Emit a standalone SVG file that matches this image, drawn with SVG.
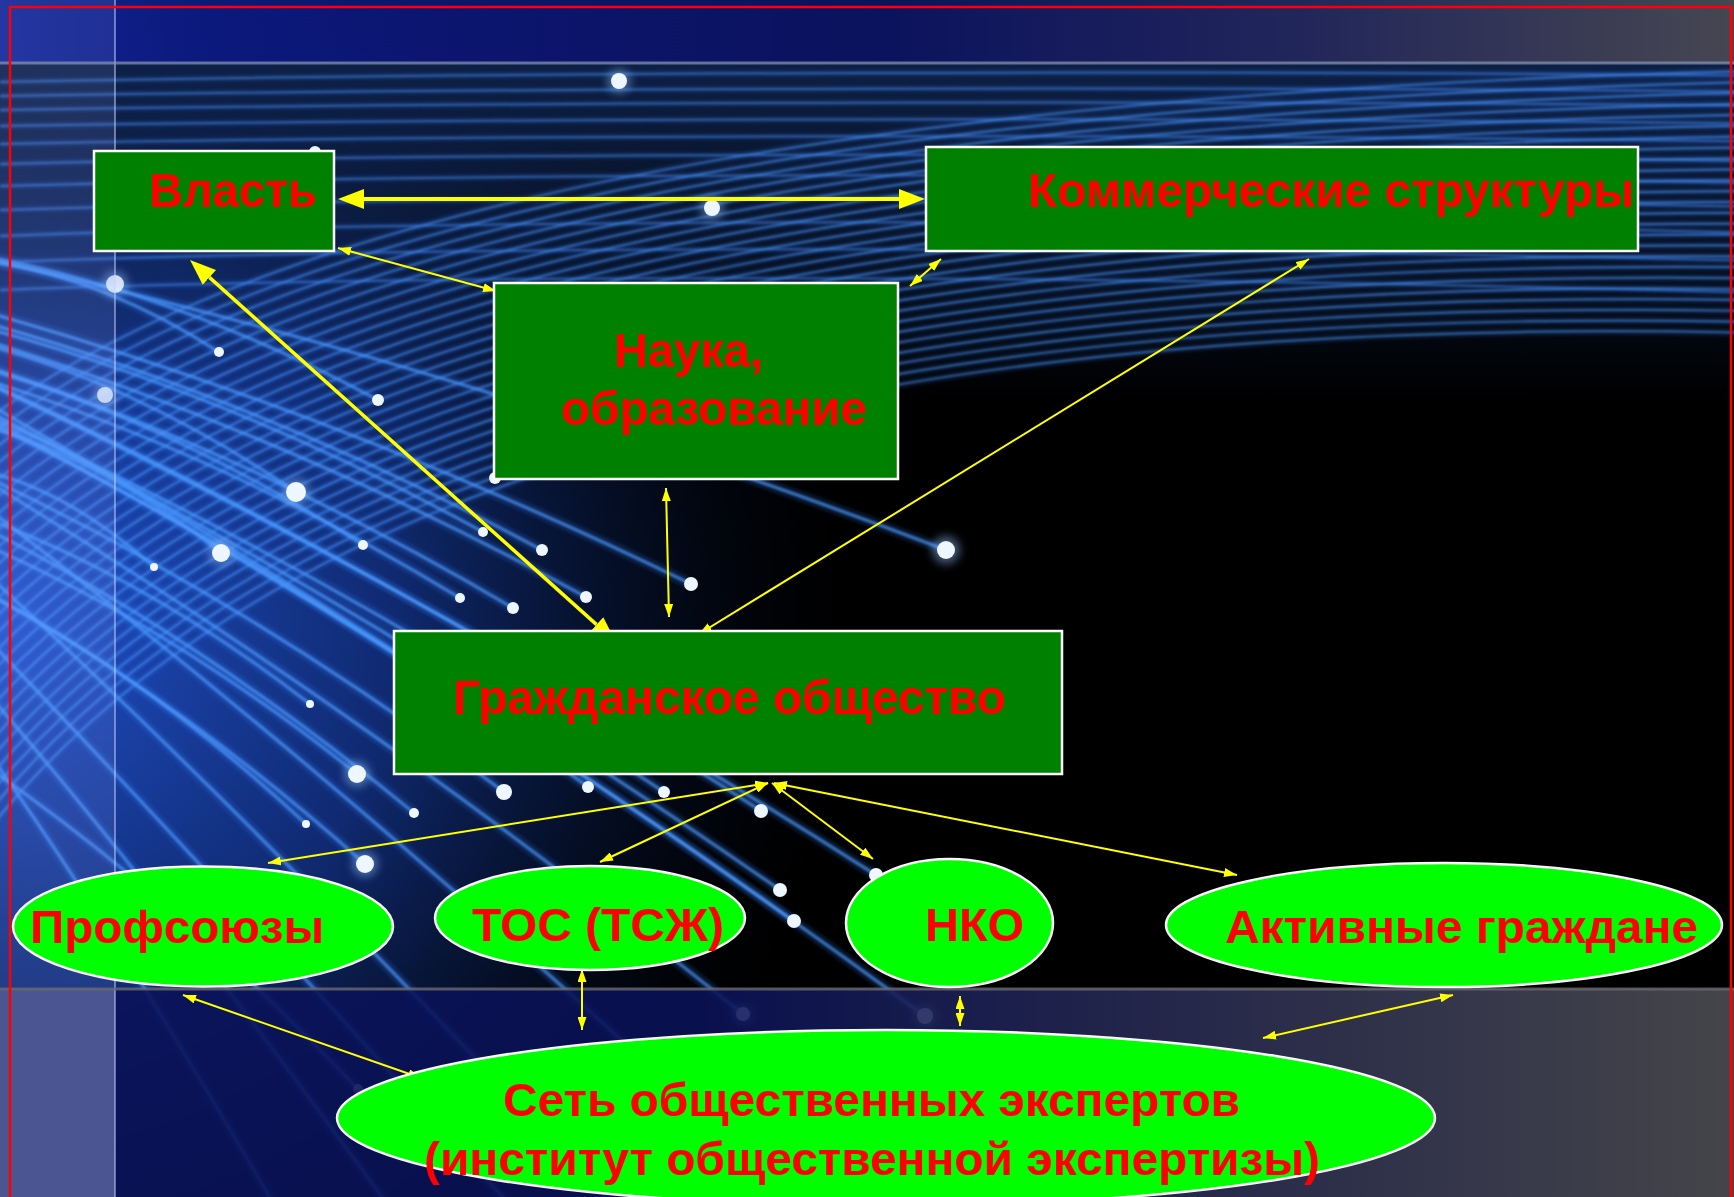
<svg xmlns="http://www.w3.org/2000/svg" xmlns:xlink="http://www.w3.org/1999/xlink" width="1734" height="1197" viewBox="0 0 1734 1197">
<style>
.box{fill:#008000;stroke:#ffffff;stroke-width:2.5}
.ell{fill:#00ff00;stroke:#ffffff;stroke-width:2.5}
.lbl{font-family:"Liberation Sans",Arial,sans-serif;font-weight:bold;fill:#ff0000}
.thin{stroke:#ffff00;stroke-width:2;fill:none;marker-start:url(#ahS);marker-end:url(#ahS)}
.thick{stroke:#ffff00;fill:none;marker-start:url(#ahB);marker-end:url(#ahB)}
.dot{fill:#eef6ff}
.halo{fill:#8fc0ff;opacity:0.45}
</style>
<defs>
<marker id="ahB" markerUnits="userSpaceOnUse" viewBox="0 0 26 20" markerWidth="26" markerHeight="20" refX="0" refY="10" orient="auto-start-reverse"><path d="M0,0 L26,10 L0,20 z" fill="#ffff00"/></marker>
<marker id="ahS" markerUnits="userSpaceOnUse" viewBox="0 0 13 9" markerWidth="13" markerHeight="9" refX="13" refY="4.5" orient="auto-start-reverse"><path d="M0,0 L13,4.5 L0,9 z" fill="#ffff00"/></marker>
<radialGradient id="glowL" gradientUnits="userSpaceOnUse" cx="0" cy="620" r="880">
<stop offset="0" stop-color="#2356d8" stop-opacity="0.95"/>
<stop offset="0.45" stop-color="#1a46bc" stop-opacity="0.6"/>
<stop offset="0.75" stop-color="#0d2a70" stop-opacity="0.25"/>
<stop offset="1" stop-color="#000000" stop-opacity="0"/>
</radialGradient>
<linearGradient id="topArea" x1="0" y1="0" x2="0" y2="1">
<stop offset="0" stop-color="#0e2148" stop-opacity="0.95"/>
<stop offset="1" stop-color="#0e2148" stop-opacity="0"/>
</linearGradient>
<linearGradient id="topBand" x1="0" y1="0" x2="1" y2="0">
<stop offset="0" stop-color="#1428a0"/>
<stop offset="0.12" stop-color="#0d1a86"/>
<stop offset="0.5" stop-color="#0c1468"/>
<stop offset="0.75" stop-color="#252a64"/>
<stop offset="1" stop-color="#4e4e5a"/>
</linearGradient>
<linearGradient id="botBand" x1="0" y1="0" x2="1" y2="0">
<stop offset="0" stop-color="#0a1258"/>
<stop offset="0.4" stop-color="#0a1258"/>
<stop offset="0.7" stop-color="#2c2f54"/>
<stop offset="1" stop-color="#4e4e54"/>
</linearGradient>
<filter id="soft" x="-10%" y="-10%" width="120%" height="120%"><feGaussianBlur stdDeviation="1.2"/></filter>
<filter id="blur4" x="-50%" y="-50%" width="200%" height="200%"><feGaussianBlur stdDeviation="4"/></filter>
<g id="fibH">
<path d="M-50,450 Q350,100 1800,70"/><path d="M-50,468 Q350,108 1800,81"/><path d="M-50,486 Q350,116 1800,92"/>
<path d="M-50,504 Q350,124 1800,103"/><path d="M-50,522 Q350,132 1800,114"/><path d="M-50,540 Q350,140 1800,125"/>
<path d="M-50,558 Q350,148 1800,136"/><path d="M-50,576 Q350,156 1800,147"/><path d="M-50,594 Q350,164 1800,158"/>
<path d="M-50,612 Q350,172 1800,169"/><path d="M-50,630 Q350,180 1800,180"/><path d="M-50,648 Q350,188 1800,191"/>
<path d="M-50,666 Q350,196 1800,202"/><path d="M-50,684 Q350,204 1800,213"/><path d="M-50,702 Q350,212 1800,224"/>
<path d="M-50,720 Q350,220 1800,235"/><path d="M-50,738 Q350,228 1800,246"/><path d="M-50,756 Q350,236 1800,257"/>
<path d="M-50,774 Q350,244 1800,268"/><path d="M-50,792 Q350,252 1800,279"/><path d="M-50,810 Q350,260 1800,290"/>
<path d="M-50,828 Q350,268 1800,301"/><path d="M-50,846 Q350,276 1800,312"/><path d="M-50,864 Q350,284 1800,323"/>
<path d="M-50,882 Q350,292 1800,334"/>
</g>
<g id="fibT">
<path d="M0,82 C500,72 1200,70 1800,76"/><path d="M0,96 C500,88 1200,86 1800,92"/><path d="M0,110 C500,102 1200,100 1800,106"/>
<path d="M0,126 C500,118 1200,117 1800,124"/><path d="M0,144 C500,134 1200,134 1800,142"/><path d="M0,164 C500,152 1200,152 1800,162"/>
<path d="M0,186 C500,172 1200,172 1800,184"/><path d="M0,210 C500,194 1200,194 1800,208"/><path d="M0,236 C500,218 1200,218 1800,234"/>
<path d="M0,262 C500,244 1200,246 1800,262"/><path d="M0,290 C500,272 1200,276 1800,294"/>
</g>
<g id="fibD">
<path d="M-50,251 Q448,360 946,550"/><path d="M-50,302 Q320,403 691,584"/><path d="M-50,330 Q268,423 586,597"/>
<path d="M-50,313 Q246,391 542,550"/><path d="M-50,319 Q216,385 483,532"/><path d="M-50,355 Q231,441 513,608"/>
<path d="M-50,369 Q205,443 460,598"/><path d="M-50,250 Q164,285 378,400"/><path d="M-50,258 Q84,265 219,352"/>
<path d="M-50,336 Q123,374 296,492"/><path d="M-50,418 Q85,445 221,553"/><path d="M-50,359 Q156,412 363,545"/>
<path d="M-50,465 Q52,476 154,567"/><path d="M-50,365 Q355,548 761,811"/><path d="M-50,399 Q307,555 664,792"/>
<path d="M-50,404 Q269,555 588,787"/><path d="M-50,460 Q227,586 504,792"/><path d="M-50,511 Q182,622 414,813"/>
<path d="M-50,575 Q128,659 306,824"/><path d="M-50,530 Q153,612 357,774"/><path d="M-50,506 Q130,565 310,704"/>
<path d="M-50,574 Q157,679 365,864"/><path d="M-50,392 Q365,601 780,890"/><path d="M-50,398 Q372,619 794,921"/>
<path d="M-50,366 Q413,580 876,875"/><path d="M-50,459 Q346,696 743,1014"/><path d="M-50,382 Q437,659 925,1016"/>
<path d="M-50,742 Q154,875 358,1089"/>
<path d="M-50,480 Q400,820 900,1300"/><path d="M-50,540 Q300,860 700,1300"/>
<path d="M-50,600 Q220,880 550,1250"/><path d="M-50,650 Q170,900 420,1250"/><path d="M-50,700 Q100,900 300,1250"/>
</g>
</defs>

<g id="background">
<rect x="0" y="0" width="1734" height="1197" fill="#000000"/>
<rect x="0" y="0" width="1734" height="1197" fill="url(#glowL)"/>
<rect x="0" y="63" width="1734" height="340" fill="url(#topArea)"/>
<g filter="url(#soft)" fill="none">
<use href="#fibT" stroke="#2a6fe0" stroke-width="8" stroke-opacity="0.12"/>
<use href="#fibT" stroke="#4a96ff" stroke-width="2" stroke-opacity="0.55"/>
<use href="#fibH" stroke="#2a6fe0" stroke-width="9" stroke-opacity="0.12"/>
<use href="#fibH" stroke="#4a98ff" stroke-width="2.2" stroke-opacity="0.6"/>
<use href="#fibD" stroke="#2a6fe0" stroke-width="12" stroke-opacity="0.16"/>
<use href="#fibD" stroke="#4a98ff" stroke-width="3.5" stroke-opacity="0.7"/>
</g>
<g filter="url(#blur4)">
<circle class="halo" cx="946" cy="550" r="14"/><circle class="halo" cx="296" cy="492" r="14"/><circle class="halo" cx="221" cy="553" r="13"/>
<circle class="halo" cx="357" cy="774" r="13"/><circle class="halo" cx="365" cy="864" r="13"/><circle class="halo" cx="115" cy="284" r="13"/>
<circle class="halo" cx="105" cy="395" r="12"/><circle class="halo" cx="619" cy="81" r="12"/><circle class="halo" cx="712" cy="208" r="12"/>
<circle class="halo" cx="925" cy="1016" r="12"/><circle class="halo" cx="743" cy="1014" r="11"/>
</g>
<g>
<circle class="dot" cx="619" cy="81" r="8"/><circle class="dot" cx="712" cy="208" r="8"/><circle class="dot" cx="315" cy="152" r="6"/>
<circle class="dot" cx="115" cy="284" r="9" opacity="0.85"/><circle class="dot" cx="219" cy="352" r="5"/><circle class="dot" cx="105" cy="395" r="8" opacity="0.8"/>
<circle class="dot" cx="378" cy="400" r="6"/><circle class="dot" cx="495" cy="478" r="6"/><circle class="dot" cx="296" cy="492" r="10"/>
<circle class="dot" cx="221" cy="553" r="9"/><circle class="dot" cx="363" cy="545" r="5"/><circle class="dot" cx="542" cy="550" r="6"/>
<circle class="dot" cx="483" cy="532" r="5"/><circle class="dot" cx="154" cy="567" r="4"/><circle class="dot" cx="460" cy="598" r="5"/>
<circle class="dot" cx="513" cy="608" r="6"/><circle class="dot" cx="586" cy="597" r="6"/><circle class="dot" cx="691" cy="584" r="7"/>
<circle class="dot" cx="946" cy="550" r="9"/><circle class="dot" cx="310" cy="704" r="4"/><circle class="dot" cx="357" cy="774" r="9"/>
<circle class="dot" cx="504" cy="792" r="8"/><circle class="dot" cx="588" cy="787" r="6"/><circle class="dot" cx="664" cy="792" r="6"/>
<circle class="dot" cx="761" cy="811" r="7"/><circle class="dot" cx="414" cy="813" r="5"/><circle class="dot" cx="306" cy="824" r="4"/>
<circle class="dot" cx="365" cy="864" r="9"/><circle class="dot" cx="780" cy="890" r="7"/><circle class="dot" cx="794" cy="921" r="7"/>
<circle class="dot" cx="876" cy="875" r="7"/><circle class="dot" cx="743" cy="1014" r="7"/><circle class="dot" cx="925" cy="1016" r="8"/>
<circle class="dot" cx="358" cy="1089" r="5" opacity="0.7"/>
</g>
<rect x="0" y="0" width="1734" height="63" fill="url(#topBand)" opacity="0.9"/>
<rect x="0" y="989" width="1734" height="208" fill="url(#botBand)" opacity="0.88"/>
<rect x="0" y="0" width="115" height="989" fill="#9aabff" opacity="0.13"/>
<rect x="0" y="989" width="115" height="208" fill="#4a5592"/>
<line x1="115" y1="0" x2="115" y2="1197" stroke="#c8d2ff" stroke-opacity="0.5" stroke-width="2"/>
<line x1="0" y1="63" x2="1734" y2="63" stroke="#8a98b8" stroke-opacity="0.7" stroke-width="3"/>
<line x1="0" y1="989" x2="1734" y2="989" stroke="#6a6a72" stroke-opacity="0.8" stroke-width="3"/>
<rect x="10" y="7" width="1721" height="1210" fill="none" stroke="#ff0000" stroke-width="2.5"/>
</g>

<g id="connectors">
<line class="thick" x1="364" y1="199" x2="899" y2="199" stroke-width="4"/>
<line class="thick" x1="209.4" y1="277.4" x2="596.6" y2="624.6" stroke-width="3.5"/>
<line class="thin" x1="338" y1="248" x2="496" y2="291"/>
<line class="thin" x1="666" y1="488" x2="669" y2="617"/>
<line class="thin" x1="1309" y1="259" x2="699" y2="634"/>
<line class="thin" x1="910" y1="286" x2="941" y2="259"/>
<line class="thin" x1="768" y1="783" x2="268" y2="863"/>
<line class="thin" x1="768" y1="783" x2="600" y2="862"/>
<line class="thin" x1="772" y1="783" x2="873" y2="859"/>
<line class="thin" x1="774" y1="783" x2="1237" y2="875"/>
<line class="thin" x1="582" y1="969" x2="582" y2="1030"/>
<line class="thin" x1="960" y1="996" x2="960" y2="1026"/>
<line class="thin" x1="183" y1="995" x2="421" y2="1078"/>
<line class="thin" x1="1453" y1="995" x2="1263" y2="1038"/>
</g>

<g id="node-vlast">
<rect class="box" x="94" y="151" width="240" height="100"/>
<text class="lbl" x="149" y="207" font-size="48" textLength="168" lengthAdjust="spacingAndGlyphs">Власть</text>
</g>
<g id="node-kommercheskie">
<rect class="box" x="926" y="147" width="712" height="104"/>
<text class="lbl" x="1028" y="207" font-size="48" textLength="606" lengthAdjust="spacingAndGlyphs">Коммерческие структуры</text>
</g>
<g id="node-nauka">
<rect class="box" x="494" y="283" width="404" height="196"/>
<text class="lbl" x="614" y="367" font-size="48" textLength="149" lengthAdjust="spacingAndGlyphs">Наука,</text>
<text class="lbl" x="561" y="425" font-size="48" textLength="306" lengthAdjust="spacingAndGlyphs">образование</text>
</g>
<g id="node-grazhdanskoe">
<rect class="box" x="394" y="631" width="668" height="143"/>
<text class="lbl" x="453" y="714" font-size="48" textLength="553" lengthAdjust="spacingAndGlyphs">Гражданское общество</text>
</g>
<g id="node-profsoyuzy">
<ellipse class="ell" cx="203" cy="926.5" rx="190" ry="60"/>
<text class="lbl" x="30" y="943" font-size="47" textLength="294" lengthAdjust="spacingAndGlyphs">Профсоюзы</text>
</g>
<g id="node-tos">
<ellipse class="ell" cx="590" cy="918" rx="155" ry="52"/>
<text class="lbl" x="472" y="941" font-size="47" textLength="252" lengthAdjust="spacingAndGlyphs">ТОС (ТСЖ)</text>
</g>
<g id="node-nko">
<ellipse class="ell" cx="949.5" cy="923" rx="103.5" ry="64"/>
<text class="lbl" x="925" y="941" font-size="47" textLength="99" lengthAdjust="spacingAndGlyphs">НКО</text>
</g>
<g id="node-aktivnye">
<ellipse class="ell" cx="1444" cy="925" rx="278" ry="62"/>
<text class="lbl" x="1225" y="943" font-size="47" textLength="473" lengthAdjust="spacingAndGlyphs">Активные граждане</text>
</g>
<g id="node-set">
<ellipse class="ell" cx="886" cy="1118" rx="549" ry="88"/>
<text class="lbl" x="503" y="1116" font-size="46" textLength="737" lengthAdjust="spacingAndGlyphs">Сеть общественных экспертов</text>
<text class="lbl" x="424" y="1175" font-size="46" textLength="896" lengthAdjust="spacingAndGlyphs">(институт общественной экспертизы)</text>
</g>
</svg>
